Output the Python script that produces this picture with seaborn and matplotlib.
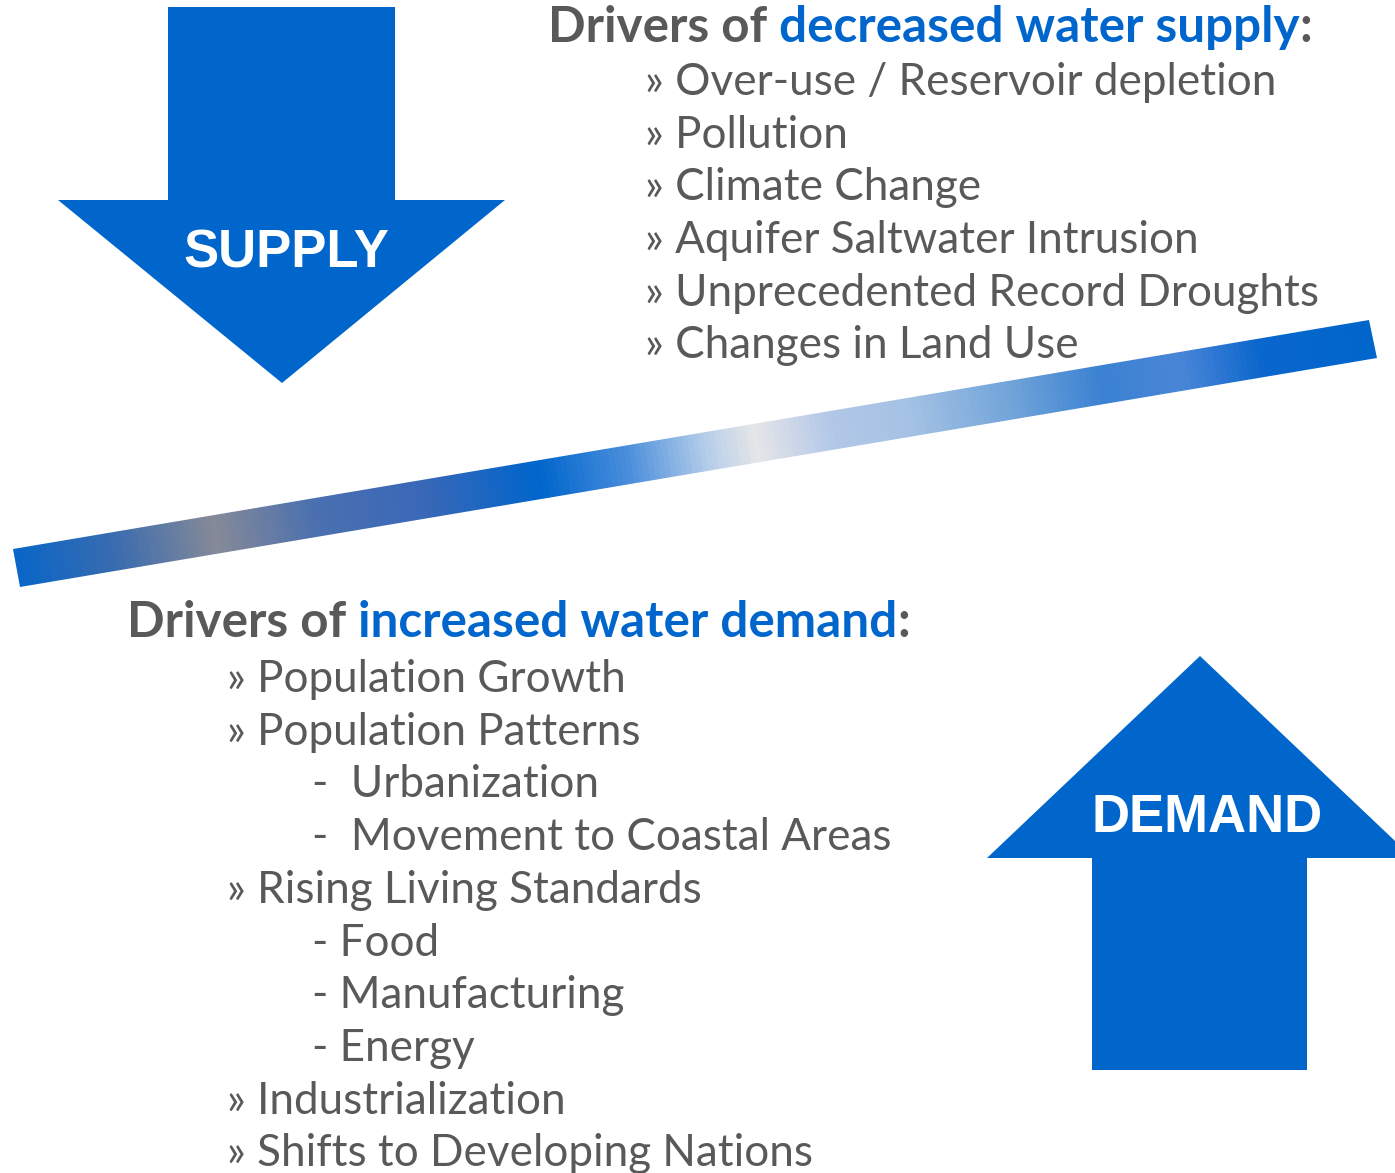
import numpy as np
import matplotlib.pyplot as plt
import seaborn as sns
from matplotlib.patches import Polygon
from matplotlib.colors import LinearSegmentedColormap

BLUE = '#0066CC'
GRAY = '#595959'

# --- text content ---
supply_title = ['Drivers of ', 'decreased water supply', ':']
supply_items = ['» Over-use / Reservoir depletion',
                '» Pollution',
                '» Climate Change',
                '» Aquifer Saltwater Intrusion',
                '» Unprecedented Record Droughts',
                '» Changes in Land Use']

demand_title = ['Drivers of ', 'increased water demand', ':']
demand_items = ['» Population Growth',
                '» Population Patterns',
                '-  Urbanization',
                '-  Movement to Coastal Areas',
                '» Rising Living Standards',
                '- Food',
                '- Manufacturing',
                '- Energy',
                '» Industrialization',
                '» Shifts to Developing Nations']
demand_levels = [0, 0, 1, 1, 0, 1, 1, 1, 0, 0]

# gradient stops along the diagonal band
band_stops = [0.00, 0.07, 0.145, 0.22, 0.30, 0.385, 0.45, 0.51, 0.545, 0.60, 0.66, 0.73, 0.80, 0.86, 0.92, 1.00]
band_colors = ['#0a66c8', '#3a6cb0', '#868a98', '#4a70b0', '#3a68b8', '#0066cc', '#4a8edc', '#b8cfea',
               '#e6e6e8', '#b4c8e8', '#a4c2e4', '#74a6da', '#3c82d2', '#4a86d8', '#0a66cc', '#0066cc']

sns.set_theme(style='white')
plt.rcParams['font.family'] = ['Lato', 'DejaVu Sans']

W, H = 1395, 1173
fig = plt.figure(figsize=(W / 100, H / 100), dpi=100)
ax = fig.add_axes([0, 0, 1, 1])
ax.set_xlim(0, W)
ax.set_ylim(H, 0)
ax.axis('off')
renderer = fig.canvas.get_renderer()


def fit_size(text, target_w, weight='normal', family=None):
    t = ax.text(0, 0, text, fontsize=30, fontweight=weight, family=family)
    w = t.get_window_extent(renderer).width
    t.remove()
    return 30 * target_w / w


def multi_text(x, y, parts, colors, size):
    for part, c in zip(parts, colors):
        t = ax.text(x, y, part, fontsize=size, fontweight='bold', color=c, va='baseline')
        x += t.get_window_extent(renderer).width


# --- arrows ---
supply_arrow = [(168, 7), (395, 7), (395, 200), (505, 200), (282, 383), (58, 200), (168, 200)]
demand_arrow = [(1092, 1070), (1307, 1070), (1307, 858), (1413, 858), (1200, 656), (987, 858), (1092, 858)]
for pts in (supply_arrow, demand_arrow):
    ax.add_patch(Polygon(pts, closed=True, facecolor=BLUE, edgecolor='none'))

lab_size = fit_size('DEMAND', 231, 'bold', 'Liberation Sans')
ax.text(286, 268, 'SUPPLY', fontsize=lab_size, fontweight='bold', color='white',
        family='Liberation Sans', ha='center', va='baseline')
ax.text(1207, 832, 'DEMAND', fontsize=lab_size, fontweight='bold', color='white',
        family='Liberation Sans', ha='center', va='baseline')

# --- gradient band ---
band = [(13, 549), (1369, 320), (1377, 358), (20, 587)]
cmap = LinearSegmentedColormap.from_list('band', list(zip(band_stops, band_colors)))
gx, gy = np.meshgrid(np.arange(0, W, 1.0), np.arange(300, 600, 1.0))
p0 = np.array([16.5, 568.0])
d = np.array([1373.0, 339.0]) - p0
tt = ((gx - p0[0]) * d[0] + (gy - p0[1]) * d[1]) / (d @ d)
img = ax.imshow(np.clip(tt, 0, 1), cmap=cmap, vmin=0, vmax=1, extent=(0, W, 600, 300),
                origin='upper', interpolation='bilinear', aspect='auto')
clip = Polygon(band, closed=True, facecolor='none', edgecolor='none')
ax.add_patch(clip)
img.set_clip_path(clip)
ax.set_xlim(0, W)
ax.set_ylim(H, 0)

# --- text blocks ---
item_size = fit_size(supply_items[4], 671)
head_size = fit_size(''.join(supply_title), 762, 'bold')

multi_text(548, 42, supply_title, [GRAY, BLUE, GRAY], head_size)
for i, s in enumerate(supply_items):
    ax.text(645, 95 + i * 52.7, s, fontsize=item_size, color=GRAY, va='baseline')

multi_text(127, 637, demand_title, [GRAY, BLUE, GRAY], head_size)
for i, (s, lev) in enumerate(zip(demand_items, demand_levels)):
    ax.text(227 if lev == 0 else 312, 692 + i * 52.7, s, fontsize=item_size, color=GRAY, va='baseline')

fig.savefig('out.png', dpi=100)
